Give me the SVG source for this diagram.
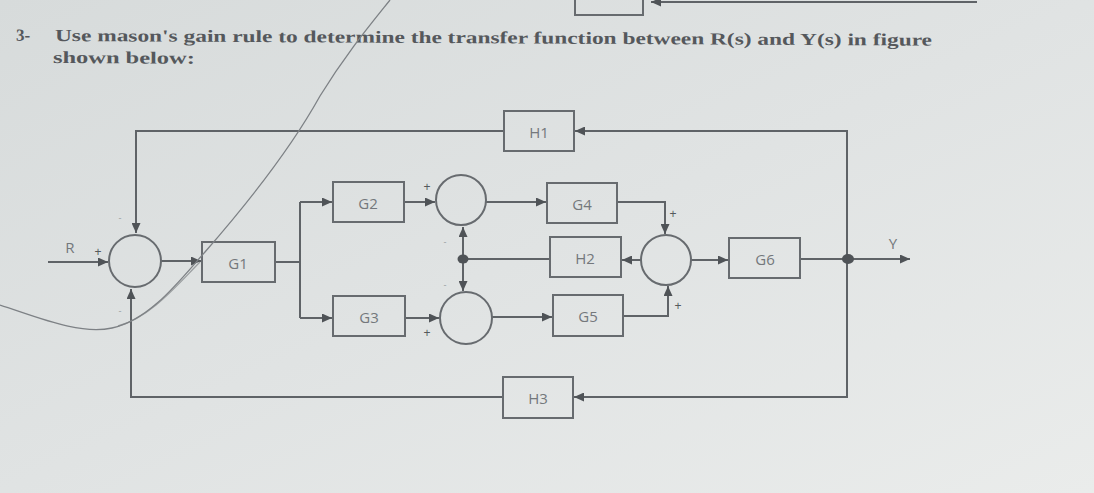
<svg xmlns="http://www.w3.org/2000/svg" width="1094" height="493" viewBox="0 0 1094 493">
  <defs>
    <linearGradient id="bg" x1="0" y1="0" x2="1" y2="1">
      <stop offset="0" stop-color="#d7dbdb"/>
      <stop offset="0.5" stop-color="#e0e3e3"/>
      <stop offset="1" stop-color="#eaeceb"/>
    </linearGradient>
    <marker id="arr" markerUnits="userSpaceOnUse" markerWidth="11" markerHeight="9" refX="10" refY="4.5" orient="auto">
      <path d="M0,0 L10,4.5 L0,9 z" fill="#4f5357"/>
    </marker>
    <style>
      .ln { fill: none; stroke: #5f6367; stroke-width: 2; }
      .box { fill: none; stroke: #676b6f; stroke-width: 2; }
      .sum { fill: none; stroke: #676b6f; stroke-width: 2; }
      .lbl { font-family: "Open Sans", "Liberation Sans", sans-serif; font-size: 15px; fill: #74787c; text-anchor: middle; dominant-baseline: central; }
      .sgn { font-family: "Liberation Sans", sans-serif; font-size: 12px; fill: #55595d; text-anchor: middle; dominant-baseline: central; }
      .sgs { font-family: "Liberation Sans", sans-serif; font-size: 9px; fill: #9a9ea2; text-anchor: middle; dominant-baseline: central; }
      .title { font-family: "Liberation Serif", "Times New Roman", serif; font-weight: bold; font-size: 17px; fill: #55585c; }
      .pen { fill: none; stroke: #7d8185; stroke-width: 1.3; }
    </style>
  </defs>
  <rect x="0" y="0" width="1094" height="493" fill="url(#bg)"/>

  <!-- partial figure of previous question at top -->
  <g id="prev-fragment">
    <path class="box" d="M575,-5 V15 H643 V-5"/>
    <path class="ln" d="M977,2 H651" marker-end="url(#arr)"/>
  </g>

  <!-- title -->
  <g id="title" transform="rotate(0.3 55 41)">
    <text class="title" x="16" y="41">3-</text>
    <text class="title" x="55" y="41" textLength="877" lengthAdjust="spacingAndGlyphs">Use mason's gain rule to determine the transfer function between R(s) and Y(s) in figure</text>
    <text class="title" x="53" y="63" textLength="142" lengthAdjust="spacingAndGlyphs">shown below:</text>
  </g>

  <!-- connectors -->
  <g id="connectors">
    <path class="ln" d="M48,262 H108" marker-end="url(#arr)"/>
    <path class="ln" d="M161,261 H201" marker-end="url(#arr)"/>
    <path class="ln" d="M275,262 H300"/>
    <path class="ln" d="M300,202 V318"/>
    <path class="ln" d="M300,202 H332" marker-end="url(#arr)"/>
    <path class="ln" d="M300,318 H332" marker-end="url(#arr)"/>
    <path class="ln" d="M404,202 H435" marker-end="url(#arr)"/>
    <path class="ln" d="M405,318 H439" marker-end="url(#arr)"/>
    <path class="ln" d="M486,202 H546" marker-end="url(#arr)"/>
    <path class="ln" d="M492,317 H552" marker-end="url(#arr)"/>
    <path class="ln" d="M550,259 H463"/>
    <path class="ln" d="M463,259 V227" marker-end="url(#arr)"/>
    <path class="ln" d="M463,259 V291" marker-end="url(#arr)"/>
    <path class="ln" d="M617,202 H665 V234" marker-end="url(#arr)"/>
    <path class="ln" d="M623,316 H668 V286" marker-end="url(#arr)"/>
    <path class="ln" d="M641,260 H622" marker-end="url(#arr)"/>
    <path class="ln" d="M691,260 H728" marker-end="url(#arr)"/>
    <path class="ln" d="M800,259 H910" marker-end="url(#arr)"/>
    <path class="ln" d="M847,259 V131 H575" marker-end="url(#arr)"/>
    <path class="ln" d="M504,131 H136 V233" marker-end="url(#arr)"/>
    <path class="ln" d="M847,259 V397 H574" marker-end="url(#arr)"/>
    <path class="ln" d="M503,397 H131 V289" marker-end="url(#arr)"/>
    <ellipse cx="463" cy="259" rx="5.5" ry="4.5" fill="#4f5357"/>
    <ellipse cx="848" cy="259" rx="6" ry="5" fill="#4f5357"/>
  </g>

  <!-- summing junctions -->
  <g id="S1">
    <circle class="sum" cx="135" cy="261" r="26"/>
    <text class="sgn" x="98" y="252">+</text>
    <text class="sgs" x="120" y="218">-</text>
    <text class="sgs" x="120" y="311">-</text>
  </g>
  <g id="S2">
    <circle class="sum" cx="461" cy="200" r="25"/>
    <text class="sgn" x="427" y="187">+</text>
    <text class="sgs" x="445" y="242">-</text>
  </g>
  <g id="S3">
    <circle class="sum" cx="466" cy="318" r="26"/>
    <text class="sgn" x="427" y="333">+</text>
    <text class="sgs" x="445" y="285">-</text>
  </g>
  <g id="S4">
    <circle class="sum" cx="666" cy="260" r="25"/>
    <text class="sgn" x="673" y="214">+</text>
    <text class="sgn" x="678" y="306">+</text>
  </g>

  <!-- blocks -->
  <g id="G1"><rect class="box" x="202" y="242" width="73" height="40"/><text class="lbl" x="238" y="263">G1</text></g>
  <g id="G2"><rect class="box" x="333" y="182" width="71" height="40"/><text class="lbl" x="368" y="203">G2</text></g>
  <g id="G3"><rect class="box" x="333" y="296" width="72" height="40"/><text class="lbl" x="369" y="317">G3</text></g>
  <g id="G4"><rect class="box" x="547" y="183" width="70" height="40"/><text class="lbl" x="582" y="204">G4</text></g>
  <g id="H2"><rect class="box" x="550" y="237" width="71" height="40"/><text class="lbl" x="585" y="258">H2</text></g>
  <g id="G5"><rect class="box" x="553" y="295" width="70" height="41"/><text class="lbl" x="588" y="316">G5</text></g>
  <g id="G6"><rect class="box" x="729" y="238" width="71" height="40"/><text class="lbl" x="765" y="259">G6</text></g>
  <g id="H1"><rect class="box" x="504" y="111" width="70" height="40"/><text class="lbl" x="539" y="132">H1</text></g>
  <g id="H3"><rect class="box" x="503" y="377" width="70" height="41"/><text class="lbl" x="538" y="398">H3</text></g>

  <!-- signal labels -->
  <g id="labels">
    <text class="lbl" x="70" y="247" font-size="13">R</text>
    <text class="lbl" x="893" y="243" font-size="13">Y</text>
  </g>

  <!-- pen marks on the photographed page -->
  <g id="pen-marks">
    <path class="pen" d="M0,305 C40,318 80,335 112,328 C150,320 180,280 205,252 C240,212 290,150 320,96 C345,55 370,25 390,0"/>
    <path class="pen" d="M118,326 C150,318 178,284 200,262" stroke-opacity="0.7"/>
  </g>
</svg>
